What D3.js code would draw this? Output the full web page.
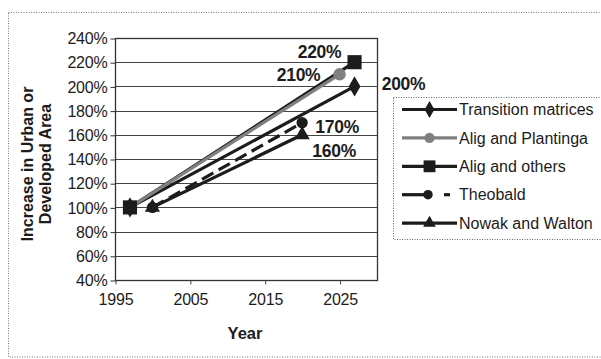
<!DOCTYPE html>
<html>
<head>
<meta charset="utf-8">
<script src="https://cdn.jsdelivr.net/npm/d3@7/dist/d3.min.js"></script>
<style>
  html, body { margin: 0; padding: 0; background: #fff; }
  svg { display: block; font-family: "Liberation Sans", Arial, sans-serif; }
</style>
</head>
<body>
<svg id="chart" width="601" height="359"></svg>
<script>
// Projected increase in urban / developed area by study
const seriesNames = ["Transition matrices", "Alig and Plantinga", "Alig and others", "Theobald", "Nowak and Walton"];
const transitionYears = [1997, 2027];
const transitionValues = [100, 200];
const plantingaYears = [1997, 2025];
const plantingaValues = [100, 210];
const othersYears = [1997, 2027];
const othersValues = [100, 220];
const theobaldYears = [2000, 2020];
const theobaldValues = [100, 170];
const nowakYears = [2000, 2020];
const nowakValues = [100, 160];
const xTicks = [1995, 2005, 2015, 2025];
const yTicks = [40, 60, 80, 100, 120, 140, 160, 180, 200, 220, 240];

const ink = "#1c1c1c";
const series = [
  { name: seriesNames[0], years: transitionYears, values: transitionValues, color: ink, symbol: d3.symbolDiamond, size: 120, dash: null, label: [49, -3] },
  { name: seriesNames[1], years: plantingaYears, values: plantingaValues, color: "#808080", symbol: d3.symbolCircle, size: 120, dash: null, label: [-41, 1] },
  { name: seriesNames[2], years: othersYears, values: othersValues, color: ink, symbol: d3.symbolSquare, size: 200, dash: null, label: [-35, -10] },
  { name: seriesNames[3], years: theobaldYears, values: theobaldValues, color: ink, symbol: d3.symbolCircle, size: 100, dash: "13,6", label: [35, 4] },
  { name: seriesNames[4], years: nowakYears, values: nowakValues, color: ink, symbol: d3.symbolTriangle, size: 100, dash: null, label: [32, 16] }
];

const svg = d3.select("#chart");

// outer chart frame (dotted)
svg.append("rect")
  .attr("x", 8.5).attr("y", 12.5).attr("width", 600).attr("height", 344.5)
  .attr("fill", "#fff").attr("stroke", "#777").attr("stroke-width", 1)
  .attr("stroke-dasharray", "1,1.5");

const x = d3.scaleLinear().domain([1995, 2030]).range([115, 377]);
const y = d3.scaleLinear().domain([40, 240]).range([280, 38]);

// gridlines
svg.append("g").selectAll("line").data(yTicks).join("line")
  .attr("x1", x.range()[0]).attr("x2", x.range()[1])
  .attr("y1", d => Math.round(y(d)) + 0.5).attr("y2", d => Math.round(y(d)) + 0.5)
  .attr("stroke", "#444").attr("stroke-width", 1.1);

// plot frame
svg.append("rect")
  .attr("x", 115.5).attr("y", 38.5)
  .attr("width", x.range()[1] - x.range()[0]).attr("height", y.range()[0] - y.range()[1])
  .attr("fill", "none").attr("stroke", "#333").attr("stroke-width", 1.3);

// y axis
const yAxis = d3.axisLeft(y).tickValues(yTicks).tickSize(5).tickPadding(3)
  .tickFormat(d => d + "%");
const gy = svg.append("g").attr("transform", "translate(115.5,0.5)").call(yAxis);
gy.select(".domain").remove();
gy.selectAll("line").attr("stroke", "#333");
gy.selectAll("text").attr("font-size", 16).attr("fill", ink)
  .attr("font-family", "'Liberation Sans', Arial, sans-serif").attr("letter-spacing", -0.2);

// x axis
const xAxis = d3.axisBottom(x).tickValues(xTicks).tickSize(4).tickPadding(9)
  .tickFormat(d3.format("d"));
const gx = svg.append("g").attr("transform", "translate(0.5,280.5)").call(xAxis);
gx.select(".domain").remove();
gx.selectAll("line").attr("stroke", "#444");
gx.selectAll("text").attr("font-size", 16).attr("fill", ink)
  .attr("font-family", "'Liberation Sans', Arial, sans-serif").attr("letter-spacing", -0.2);

// axis titles
svg.append("text").attr("x", 245).attr("y", 339).attr("text-anchor", "middle")
  .attr("font-size", 16.5).attr("font-weight", "bold").attr("fill", ink).text("Year");
const yTitle = svg.append("text").attr("transform", "translate(0,164) rotate(-90)")
  .attr("text-anchor", "middle").attr("font-size", 16).attr("font-weight", "bold").attr("fill", ink);
yTitle.append("tspan").attr("x", 0).attr("y", 33).text("Increase in Urban or");
yTitle.append("tspan").attr("x", 0).attr("y", 51).text("Developed Area");

// series lines
const line = d3.line().x(d => x(d[0])).y(d => y(d[1]));
const lineOrder = [0, 2, 1, 3, 4];
const gLines = svg.append("g");
lineOrder.forEach(i => {
  const s = series[i];
  const pts = s.years.map((yr, k) => [yr, s.values[k]]);
  gLines.append("path").datum(pts).attr("d", line)
    .attr("fill", "none").attr("stroke", s.color).attr("stroke-width", 3.2)
    .attr("stroke-dasharray", s.dash);
});
series.forEach(s => {
  const pts = s.years.map((yr, k) => [yr, s.values[k]]);
  gLines.append("g").selectAll("path").data(pts).join("path")
    .attr("transform", d => `translate(${x(d[0])},${y(d[1])})`)
    .attr("d", d3.symbol().type(s.symbol).size(s.size))
    .attr("fill", s.color);
});

// end-point value labels
const gLabels = svg.append("g");
series.forEach(s => {
  const n = s.years.length - 1;
  gLabels.append("text")
    .attr("x", x(s.years[n]) + s.label[0])
    .attr("y", y(s.values[n]) + s.label[1])
    .attr("dy", "0.35em").attr("text-anchor", "middle")
    .attr("font-size", 17.5).attr("font-weight", "bold").attr("fill", ink)
    .attr("letter-spacing", -0.3)
    .text(s.values[n] + "%");
});

// legend
const lg = svg.append("g");
lg.append("rect").attr("x", 393.5).attr("y", 97.5).attr("width", 210).attr("height", 142)
  .attr("fill", "#fff").attr("stroke", "#666").attr("stroke-width", 1).attr("stroke-dasharray", "1,1.5");
series.forEach((s, i) => {
  const cy = 109.5 + i * 28.4;
  lg.append("line").attr("x1", 402).attr("x2", s.dash ? 432 : 457)
    .attr("y1", cy).attr("y2", cy).attr("stroke", s.color).attr("stroke-width", 3.2);
  if (s.dash) {
    lg.append("line").attr("x1", 444).attr("x2", 450).attr("y1", cy).attr("y2", cy)
      .attr("stroke", s.color).attr("stroke-width", 3.2);
  }
  lg.append("path").attr("transform", `translate(${s.dash ? 428 : 429.5},${cy})`)
    .attr("d", d3.symbol().type(s.symbol).size(s.size * 0.7)).attr("fill", s.color);
  lg.append("text").attr("x", 459).attr("y", cy).attr("dy", "0.36em")
    .attr("font-size", 16).attr("fill", ink).text(s.name);
});
</script>
</body>
</html>
